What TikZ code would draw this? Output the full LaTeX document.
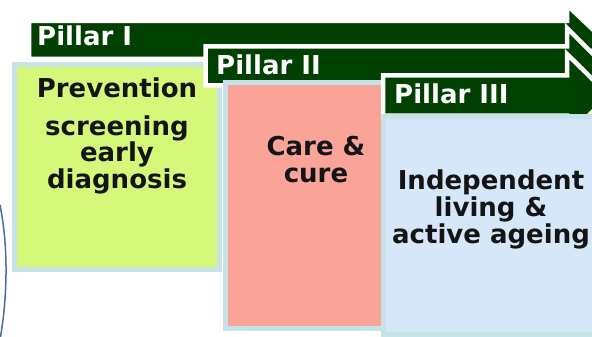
\documentclass[tikz,border=0pt]{standalone}
\usepackage{fontspec}
\setmainfont{DejaVu Sans}
\definecolor{pillargreen}{RGB}{0,64,0}
\definecolor{preventgreen}{RGB}{214,248,122}
\definecolor{curepink}{RGB}{250,163,153}
\definecolor{ageblue}{RGB}{213,231,248}
\definecolor{boxrim}{RGB}{198,228,232}
\definecolor{arcblue}{RGB}{74,106,164}

\tikzset{
  pillararrow/.style={fill=pillargreen, draw=white, line width=4.5pt},
  pillarbox/.style={draw=boxrim, line width=5pt},
  pillarlabel/.style={text=white, font=\fontsize{26}{25}\selectfont\bfseries, inner sep=0pt, anchor=base west},
  boxtext/.style={text=black!92, font=\fontsize{26}{25}\selectfont\bfseries, inner sep=0pt, align=center, anchor=base},
  widetext/.style={boxtext, font=\fontsize{26}{27}\selectfont\bfseries}
}

\begin{document}
\begin{tikzpicture}[x=1pt,y=-1pt]

  \useasboundingbox (0,0) rectangle (592,337);
  \clip (0,0) rectangle (592,337);

  % Side arc
  \draw[arcblue, line width=1.5pt] (0,205) .. controls (9,250) and (7,300) .. (0,340);

  % Pillar I
  \draw[pillararrow] (29,21) -- (567,21) -- (567,5) -- (604,40) -- (567,75) -- (567,59) -- (29,59) -- cycle;
  \draw[pillarbox, fill=preventgreen] (14.5,64.5) rectangle (219.5,269.5);

  % Pillar II
  \draw[pillararrow] (205.5,46.5) -- (567,46.5) -- (567,28) -- (605,66) -- (567,104) -- (567,85.5) -- (205.5,85.5) -- cycle;
  \draw[pillarbox, fill=curepink] (225.5,82.5) rectangle (383,328.5);

  % Pillar III
  \draw[pillararrow] (383,75.5) -- (567,75.5) -- (567,54) -- (609,95.5) -- (567,137) -- (567,115.5) -- (383,115.5) -- cycle;
  \draw[pillarbox, fill=ageblue] (383.5,116.5) rectangle (610,334.5);

  % Labels (multi-line nodes sit on their last baseline)
  \node[pillarlabel] (pillarI) at (37,46) {Pillar I};
  \node[pillarlabel] (pillarII) at (216,75) {Pillar II};
  \node[pillarlabel] (pillarIII) at (394,103) {Pillar III};

  \node[boxtext] (prevention) at (117,97) {Prevention};
  \node[boxtext] (screening) at (117,188) {screening\\early\\diagnosis};
  \node[widetext] (care) at (316,182) {Care \&\\cure};
  \node[widetext] (living) at (491,243) {Independent\\living \&\\active ageing};

\end{tikzpicture}
\end{document}
